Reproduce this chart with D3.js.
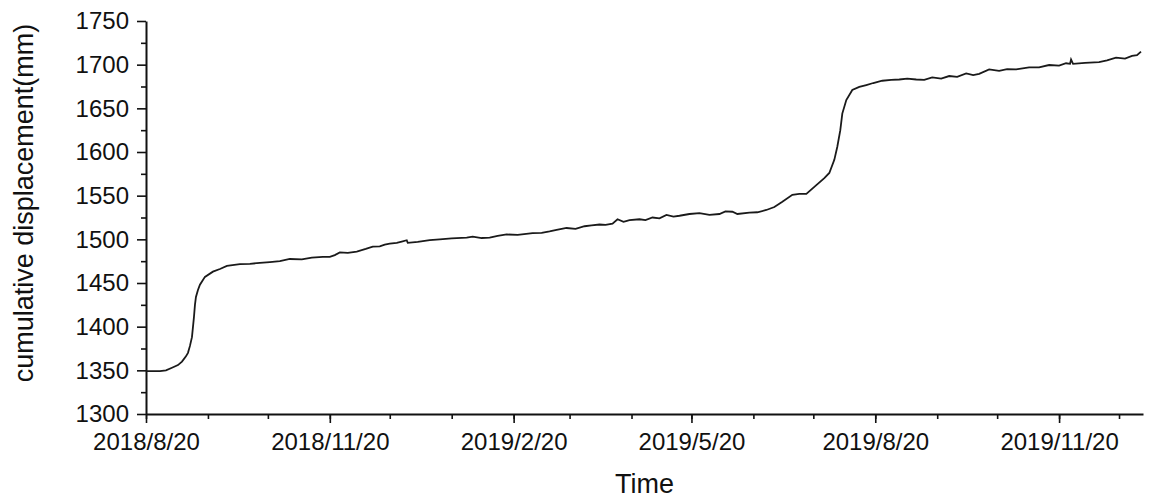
<!DOCTYPE html>
<html>
<head>
<meta charset="utf-8">
<script src="https://cdn.jsdelivr.net/npm/d3@7"></script>
<style>
  body { margin: 0; background: #fff; }
  svg { display: block; font-family: "Liberation Sans", Arial, sans-serif; }
</style>
</head>
<body>
<svg width="1153" height="499"></svg>
<script>
// data
var startDay = "2018-08-20";
var dayOffsets = [0, 4.5, 7, 10, 13, 16, 18, 20, 21, 22, 23, 24, 24.5, 25, 26, 27, 29.5, 33.5, 37, 40.5,
  47, 52, 57, 62, 67, 72, 78, 83, 88.5, 92, 94.5, 97, 101, 105.5, 110, 113.5, 117, 119.5, 122, 125.5,
  128, 130.5, 131, 136, 142, 147, 153, 160.5, 163.5, 168, 172, 176, 180.5, 186, 193.5, 198, 202, 205.5,
  210.5, 215, 219.5, 223, 227, 230, 233.5, 236, 239, 242, 247, 250, 253.5, 257, 260.5, 264, 267, 272,
  277, 282, 287, 290, 293.5, 296, 302, 306, 310.5, 314.5, 318.5, 323.5, 327, 330.5, 335.5, 339.5, 342,
  344.5, 346, 347.5, 348.5, 350.5, 353.5, 357, 360.5, 364, 368.5, 373, 377, 381, 385.5, 389.5, 393.5,
  398, 402, 406, 410.5, 414, 417, 422, 427, 431, 435.5, 442, 447, 452, 457, 460.5, 462.5, 463, 464,
  470, 477, 481, 485.5, 490, 493.5, 496, 498];
var displacement = [1349, 1349, 1349, 1350, 1353, 1356, 1360, 1366, 1370, 1378, 1388, 1411, 1425, 1434, 1442, 1448, 1457, 1463, 1466, 1469.5,
  1471.5, 1472, 1473, 1474, 1475, 1477.5, 1477, 1479, 1480, 1480, 1482, 1485, 1484.5, 1486, 1489, 1491.6, 1492, 1494, 1495, 1496,
  1497.5, 1499, 1496, 1497, 1499, 1500, 1501, 1502, 1503, 1501.5, 1502, 1504, 1505.6, 1505, 1507, 1507.5, 1509, 1510.7,
  1513, 1512, 1515, 1516, 1517, 1516.5, 1518, 1523, 1520, 1522, 1523, 1522, 1525, 1524, 1528, 1526, 1527, 1529,
  1530, 1528, 1529, 1532, 1531.6, 1529, 1530.5, 1531, 1533.6, 1537, 1543, 1551, 1552, 1552, 1562, 1570, 1576,
  1591, 1606, 1625, 1644, 1659.5, 1671, 1674.5, 1676.7, 1679, 1681.6, 1682.5, 1683, 1684, 1683, 1682.5, 1685.4,
  1684, 1687, 1686, 1690, 1688, 1689.5, 1694.6, 1693, 1695, 1694.6, 1697, 1697, 1699.6, 1699, 1701.6, 1701, 1706, 1701,
  1702, 1703, 1705, 1708, 1707, 1710, 1711, 1715];
var xTickLabels = ["2018/8/20", "2018/11/20", "2019/2/20", "2019/5/20", "2019/8/20", "2019/11/20"];
var yTicks = [1300, 1350, 1400, 1450, 1500, 1550, 1600, 1650, 1700, 1750];

(function () {
var svg = d3.select("svg");
var mLeft = 146, mRight = 1143, mTop = 21, mBottom = 414;

var parse = d3.timeParse("%Y-%m-%d");
var t0 = parse(startDay);
var series = dayOffsets.map(function (d, i) {
  return { date: d3.timeHour.offset(t0, Math.round(d * 24)), v: displacement[i] };
});

var x = d3.scaleTime().domain([t0, parse("2020-01-01")]).range([mLeft, mRight]);
var y = d3.scaleLinear().domain([1300, 1750]).range([mBottom, mTop]);

var majorDates = xTickLabels.map(function (s) { return d3.timeParse("%Y/%m/%d")(s); });
var minorDates = d3.range(0, 17).map(function (i) { return d3.timeMonth.offset(t0, i); });

// minor ticks
svg.append("g").attr("transform", "translate(0," + mBottom + ")")
  .call(d3.axisBottom(x).tickValues(minorDates).tickSize(5).tickFormat(""))
  .call(function (g) { g.select(".domain").remove(); g.selectAll("line").attr("stroke-width", 1.6); });
svg.append("g").attr("transform", "translate(" + mLeft + ",0)")
  .call(d3.axisLeft(y).tickValues(d3.range(1325, 1750, 50)).tickSize(5).tickFormat(""))
  .call(function (g) { g.select(".domain").remove(); g.selectAll("line").attr("stroke-width", 1.6); });

// major axes
var xAxis = svg.append("g").attr("transform", "translate(0," + mBottom + ")")
  .call(d3.axisBottom(x).tickValues(majorDates).tickSize(9).tickSizeOuter(0)
    .tickFormat(function (d, i) { return xTickLabels[i]; }));
xAxis.select(".domain").attr("stroke-width", 2);
xAxis.selectAll("line").attr("stroke-width", 1.6);
xAxis.selectAll("text").attr("font-size", 24).attr("fill", "#111").attr("y", 19).attr("dy", "0.71em");

var yAxis = svg.append("g").attr("transform", "translate(" + mLeft + ",0)")
  .call(d3.axisLeft(y).tickValues(yTicks).tickSize(9).tickSizeOuter(0).tickFormat(d3.format("d")));
yAxis.select(".domain").attr("stroke-width", 2);
yAxis.selectAll("line").attr("stroke-width", 1.6);
yAxis.selectAll("text").attr("font-size", 24).attr("fill", "#111").attr("x", -17);
svg.selectAll(".domain").attr("stroke", "#111");
svg.selectAll(".tick line").attr("stroke", "#111");

// curve
svg.append("path")
  .datum(series)
  .attr("fill", "none")
  .attr("stroke", "#1a1a1a")
  .attr("stroke-width", 1.8)
  .attr("d", d3.line().x(function (d) { return x(d.date); }).y(function (d) { return y(d.v); }));

// titles
svg.append("text").attr("x", (mLeft + mRight) / 2).attr("y", 493)
  .attr("text-anchor", "middle").attr("font-size", 27).attr("fill", "#111").text("Time");
svg.append("text").attr("transform", "translate(33,203) rotate(-90)")
  .attr("text-anchor", "middle").attr("font-size", 27).attr("fill", "#111")
  .text("cumulative displacement(mm)");
})();
</script>
</body>
</html>
